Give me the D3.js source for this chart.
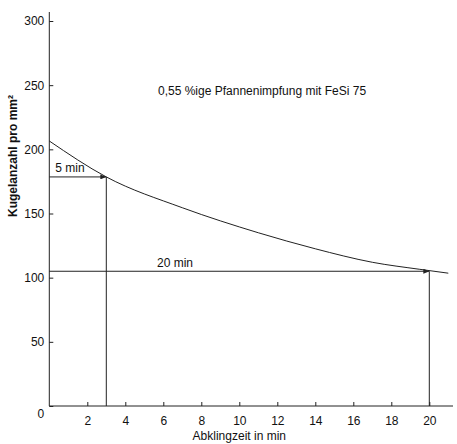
<!DOCTYPE html>
<html>
<head>
<meta charset="utf-8">
<script src="https://cdn.jsdelivr.net/npm/d3@7/dist/d3.min.js"></script>
<style>
  body { margin: 0; background: #fff; }
  text { font-family: "Liberation Sans", Arial, Helvetica, sans-serif; fill: #111; }
</style>
</head>
<body>
<svg id="chart" width="457" height="444"></svg>
<script>
// values
var timeMin = [0, 3, 7, 11, 14, 17, 19.5, 21];
var countPerMm2 = [206.5, 178.5, 154.5, 135, 122.5, 112, 106.5, 103.5];
var xTicks = [2, 4, 6, 8, 10, 12, 14, 16, 18, 20];
var yTicks = [0, 50, 100, 150, 200, 250, 300];
var markerLabels = ['5 min', '20 min'];
var markerTimes = [3, 20];
var markerCounts = [178.5, 105];

var ink = '#222';
var svg = d3.select('#chart');

var x = d3.scaleLinear().domain([0, 21]).range([49.3, 448.3]);
var y = d3.scaleLinear().domain([0, 300]).range([406, 21]);

// arrow head for the reading lines
svg.append('defs').append('marker')
  .attr('id', 'arrow')
  .attr('markerUnits', 'userSpaceOnUse')
  .attr('markerWidth', 6)
  .attr('markerHeight', 5)
  .attr('refX', 6)
  .attr('refY', 2.5)
  .attr('orient', 'auto')
  .append('path')
  .attr('d', 'M0,0L6,2.5L0,5Z')
  .attr('fill', ink);

// axis lines (y runs a bit past 300, x a bit past the last value)
svg.append('line')
  .attr('x1', x(0)).attr('x2', x(0))
  .attr('y1', y(0)).attr('y2', 12)
  .attr('stroke', ink);
svg.append('line')
  .attr('x1', x(0)).attr('x2', 453)
  .attr('y1', y(0)).attr('y2', y(0))
  .attr('stroke', ink);

var yAxis = svg.append('g')
  .attr('transform', 'translate(' + x(0) + ',0)')
  .call(d3.axisLeft(y).tickValues(yTicks).tickSize(-4).tickPadding(5).tickFormat(d3.format('d')));
yAxis.select('.domain').remove();
yAxis.selectAll('.tick line').attr('stroke', ink);
yAxis.selectAll('.tick text')
  .style('font-size', '12px')
  .attr('fill', '#111')
  .filter(function (d) { return d === 0; })
  .attr('dy', '0.95em');

var xAxis = svg.append('g')
  .attr('transform', 'translate(0,' + y(0) + ')')
  .call(d3.axisBottom(x).tickValues(xTicks).tickSize(-4).tickPadding(10).tickFormat(d3.format('d')));
xAxis.select('.domain').remove();
xAxis.selectAll('.tick line').attr('stroke', ink);
xAxis.selectAll('.tick text').style('font-size', '12px').attr('fill', '#111');

// axis titles
svg.append('text')
  .attr('x', x(10))
  .attr('y', 440)
  .attr('text-anchor', 'middle')
  .style('font-size', '12px')
  .text('Abklingzeit in min');

svg.append('text')
  .attr('transform', 'translate(17,156) rotate(-90)')
  .attr('text-anchor', 'middle')
  .style('font-size', '12px')
  .style('font-weight', 'bold')
  .text('Kugelanzahl pro mm²');

svg.append('text')
  .attr('x', 158)
  .attr('y', 95)
  .style('font-size', '12px')
  .text('0,55 %ige Pfannenimpfung mit FeSi 75');

// decay curve
var points = timeMin.map(function (t, i) { return [t, countPerMm2[i]]; });
var line = d3.line()
  .x(function (d) { return x(d[0]); })
  .y(function (d) { return y(d[1]); })
  .curve(d3.curveMonotoneX);

svg.append('path')
  .datum(points)
  .attr('d', line)
  .attr('fill', 'none')
  .attr('stroke', ink)
  .attr('stroke-width', 1);

// reading lines: horizontal from the y axis, vertical down to the x axis
var labelStart = [x(0) + 6, 157];
markerLabels.forEach(function (label, i) {
  var t = markerTimes[i], v = markerCounts[i];
  svg.append('line')
    .attr('x1', x(0)).attr('y1', y(v))
    .attr('x2', x(t)).attr('y2', y(v))
    .attr('stroke', ink)
    .attr('marker-end', 'url(#arrow)');
  svg.append('line')
    .attr('x1', x(t)).attr('y1', y(v))
    .attr('x2', x(t)).attr('y2', y(0))
    .attr('stroke', ink);
  svg.append('text')
    .attr('x', labelStart[i])
    .attr('y', y(v) - 4.5)
    .style('font-size', '12px')
    .text(label);
});
</script>
</body>
</html>
